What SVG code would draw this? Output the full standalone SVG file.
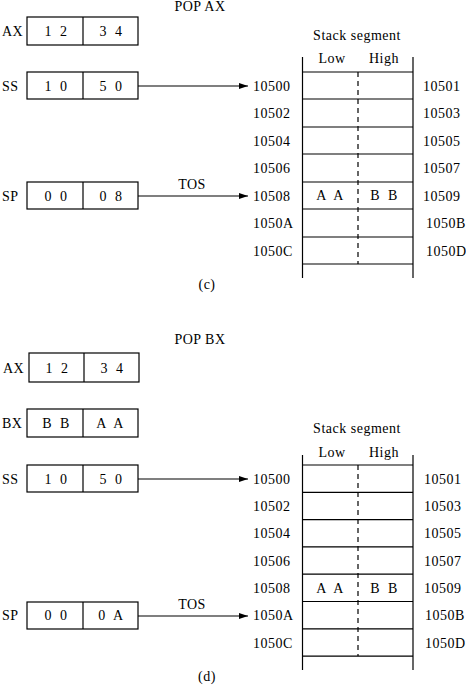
<svg xmlns="http://www.w3.org/2000/svg" width="466" height="686" viewBox="0 0 466 686">
<style>
text{font-family:"Liberation Serif","Times New Roman",serif;font-size:14px;fill:#000;letter-spacing:0.5px}
.m{text-anchor:middle}
.sp{letter-spacing:2.5px}
.box{fill:#fff;stroke:#000;stroke-width:1.2}
.ln{stroke:#000;stroke-width:1.2;fill:none}
.ds{stroke:#000;stroke-width:1.2;stroke-dasharray:5,4;fill:none}
</style>
<defs>
<marker id="ah" markerWidth="9" markerHeight="6" refX="9" refY="3" orient="auto" markerUnits="userSpaceOnUse">
<path d="M0,0 L9,3 L0,6 z" fill="#000"/>
</marker>
</defs>

<!-- (c) POP AX -->
<text class="m" x="200" y="11">POP AX</text>
<g id="c-ax">
<text x="2" y="36">AX</text>
<rect class="box" x="27" y="17" width="111" height="28"/>
<line class="ln" x1="83" y1="17" x2="83" y2="45"/>
<text class="m sp" x="57" y="36">1 2</text>
<text class="m sp" x="112" y="36">3 4</text>
</g>
<g id="c-ss">
<text x="2" y="91">SS</text>
<rect class="box" x="27" y="72" width="111" height="27"/>
<line class="ln" x1="83" y1="72" x2="83" y2="99"/>
<text class="m sp" x="57" y="91">1 0</text>
<text class="m sp" x="112" y="91">5 0</text>
</g>
<g id="c-sp">
<text x="2" y="201">SP</text>
<rect class="box" x="27" y="182" width="111" height="27"/>
<line class="ln" x1="83" y1="182" x2="83" y2="209"/>
<text class="m sp" x="57" y="201">0 0</text>
<text class="m sp" x="112" y="201">0 8</text>
</g>
<g id="c-stack">
<text class="m" x="357" y="40">Stack segment</text>
<text class="m" x="332" y="63">Low</text>
<text class="m" x="384" y="63">High</text>
<line class="ln" x1="302.5" y1="57" x2="302.5" y2="278"/>
<line class="ln" x1="413" y1="57" x2="413" y2="278"/>
<path class="ln" d="M302.5,72H413M302.5,99H413M302.5,127H413M302.5,154H413M302.5,182H413M302.5,209H413M302.5,237H413M302.5,264H413"/>
<line class="ds" x1="358" y1="72" x2="358" y2="264"/>
<text class="m sp" x="331" y="200">A A</text>
<text class="m sp" x="385" y="200">B B</text>
<text x="253" y="91">10500</text>
<text x="253" y="118">10502</text>
<text x="253" y="146">10504</text>
<text x="253" y="173">10506</text>
<text x="253" y="201">10508</text>
<text x="253" y="228">1050A</text>
<text x="253" y="256">1050C</text>
<text x="423" y="91">10501</text>
<text x="423" y="118">10503</text>
<text x="423" y="146">10505</text>
<text x="423" y="173">10507</text>
<text x="423" y="201">10509</text>
<text x="426" y="228">1050B</text>
<text x="426" y="256">1050D</text>
</g>
<text class="m" x="207" y="289">(c)</text>

<!-- (d) POP BX -->
<text class="m" x="200" y="344">POP BX</text>
<g id="d-ax">
<text x="3" y="373">AX</text>
<rect class="box" x="29" y="353" width="110" height="29"/>
<line class="ln" x1="84" y1="353" x2="84" y2="382"/>
<text class="m sp" x="58" y="373">1 2</text>
<text class="m sp" x="113" y="373">3 4</text>
</g>
<g id="d-bx">
<text x="2" y="428">BX</text>
<rect class="box" x="27" y="409" width="111" height="28"/>
<line class="ln" x1="83" y1="409" x2="83" y2="437"/>
<text class="m sp" x="57" y="428">B B</text>
<text class="m sp" x="111" y="428">A A</text>
</g>
<g id="d-ss">
<text x="2" y="484">SS</text>
<rect class="box" x="27" y="465" width="111" height="27"/>
<line class="ln" x1="83" y1="465" x2="83" y2="492"/>
<text class="m sp" x="57" y="484">1 0</text>
<text class="m sp" x="112" y="484">5 0</text>
</g>
<g id="d-sp">
<text x="2" y="620">SP</text>
<rect class="box" x="27" y="602" width="111" height="27"/>
<line class="ln" x1="83" y1="602" x2="83" y2="629"/>
<text class="m sp" x="57" y="620">0 0</text>
<text class="m sp" x="112" y="620">0 A</text>
</g>
<g id="d-stack">
<text class="m" x="357" y="433">Stack segment</text>
<text class="m" x="332" y="457">Low</text>
<text class="m" x="384" y="457">High</text>
<line class="ln" x1="302.5" y1="455" x2="302.5" y2="670"/>
<line class="ln" x1="413" y1="455" x2="413" y2="670"/>
<path class="ln" d="M302.5,465H413M302.5,492.3H413M302.5,519.6H413M302.5,546.9H413M302.5,574.2H413M302.5,601.5H413M302.5,628.8H413M302.5,656.1H413"/>
<line class="ds" x1="358" y1="465" x2="358" y2="656"/>
<text class="m sp" x="331" y="593">A A</text>
<text class="m sp" x="385" y="593">B B</text>
<text x="253" y="484">10500</text>
<text x="253" y="511">10502</text>
<text x="253" y="538">10504</text>
<text x="253" y="566">10506</text>
<text x="253" y="593">10508</text>
<text x="253" y="620">1050A</text>
<text x="253" y="648">1050C</text>
<text x="424" y="484">10501</text>
<text x="424" y="511">10503</text>
<text x="424" y="538">10505</text>
<text x="424" y="566">10507</text>
<text x="424" y="593">10509</text>
<text x="425" y="620">1050B</text>
<text x="425" y="648">1050D</text>
</g>
<text class="m" x="207" y="681">(d)</text>

<g id="connectors">
<line class="ln" x1="138" y1="86" x2="248" y2="86" marker-end="url(#ah)"/>
<line class="ln" x1="138" y1="196" x2="248" y2="196" marker-end="url(#ah)"/>
<text class="m" x="192" y="189">TOS</text>
<line class="ln" x1="138" y1="479" x2="248" y2="479" marker-end="url(#ah)"/>
<line class="ln" x1="138" y1="616" x2="248" y2="616" marker-end="url(#ah)"/>
<text class="m" x="192" y="609">TOS</text>
</g>
</svg>
